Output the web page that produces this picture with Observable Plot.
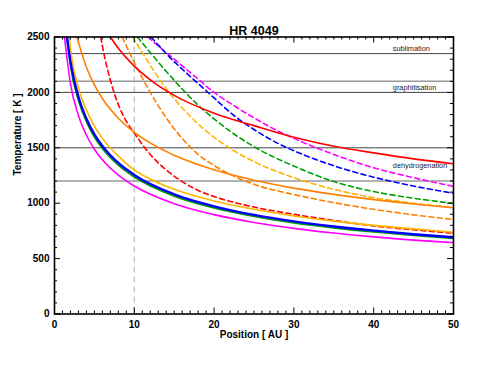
<!DOCTYPE html>
<html><head><meta charset="utf-8">
<script src="https://cdn.jsdelivr.net/npm/d3@7"></script>
<script src="https://cdn.jsdelivr.net/npm/@observablehq/plot@0.6"></script>
<style>body{margin:0;background:#fff;} #chart{width:491px;height:379px;}</style>
</head><body><div id="chart"></div>
<script>
const title = "HR 4049";
const xLabel = "Position [ AU ]";
const yLabel = "Temperature [ K ]";
const xTicks = [0, 10, 20, 30, 40, 50];
const yTicks = [0, 500, 1000, 1500, 2000, 2500];
const markerR = [10];

const limitValues = [2350, 2100, 2000, 1500, 1200];
const limitNames = ["sublimation", "graphitisation", "", "", "dehydrogenation"];

// solid curves
const r_magenta = [1.25, 2, 3, 4, 5, 6, 8, 10, 15, 20, 25, 30, 35, 40, 45, 50];
const T_magenta = [2500, 2078, 1792, 1613, 1487, 1392, 1253, 1155, 996, 897, 826, 773, 731, 696, 667, 645];
const r_blue = [1.55, 2, 3, 4, 5, 6, 8, 10, 15, 20, 25, 30, 35, 40, 45, 50];
const T_blue = [2500, 2278, 1960, 1762, 1622, 1517, 1363, 1255, 1080, 972, 894, 836, 790, 752, 720, 693];
const r_green = [1.58, 2, 3, 4, 5, 6, 8, 10, 15, 20, 25, 30, 35, 40, 45, 50];
const T_green = [2500, 2244, 1931, 1736, 1598, 1494, 1343, 1236, 1064, 957, 881, 823, 778, 741, 709, 683];
const r_gold = [1.85, 2, 3, 4, 5, 6, 8, 10, 12.5, 15, 20, 25, 30, 35, 40, 45, 50];
const T_gold = [2500, 2400, 2040, 1840, 1695, 1585, 1425, 1300, 1200, 1125, 1020, 945, 885, 838, 800, 768, 738];
const r_orange = [2.8, 3, 4, 5, 6, 8, 10, 15, 20, 25, 30, 35, 40, 45, 50];
const T_orange = [2500, 2452, 2227, 2067, 1945, 1767, 1640, 1432, 1301, 1207, 1136, 1080, 1032, 993, 958];
const r_red = [7, 8, 10, 12, 15, 20, 25, 30, 35, 40, 45, 50];
const T_red = [2500, 2398, 2237, 2114, 1973, 1812, 1700, 1595, 1514, 1454, 1400, 1356];

// dashed curves
const r_redD = [5.8, 6, 6.5, 7, 7.5, 8, 9, 10, 12, 14, 16, 18, 20, 25, 30, 35, 40, 45, 50];
const T_redD = [2500, 2420, 2250, 2110, 1990, 1890, 1740, 1632, 1440, 1300, 1195, 1115, 1060, 965, 900, 845, 795, 760, 729];
const r_orangeD = [8.5, 9, 10, 11, 12, 13, 14, 16, 18, 20, 22, 25, 30, 35, 40, 45, 50];
const T_orangeD = [2500, 2420, 2270, 2130, 2000, 1880, 1770, 1585, 1440, 1340, 1260, 1170, 1078, 1005, 945, 895, 853];
const r_goldD = [9.8, 11, 12, 13, 14, 16, 18, 20, 22, 25, 30, 35, 40, 45, 50];
const T_goldD = [2500, 2360, 2245, 2135, 2035, 1860, 1715, 1595, 1495, 1375, 1230, 1125, 1050, 1000, 960];
const r_greenD = [10.4, 12, 14, 16, 18, 20, 22, 25, 30, 35, 40, 45, 50];
const T_greenD = [2500, 2360, 2190, 2030, 1885, 1760, 1650, 1510, 1335, 1195, 1105, 1045, 998];
const r_magentaD = [11.7, 13, 15, 17.5, 20, 22.5, 25, 27.5, 30, 35, 40, 45, 50];
const T_magentaD = [2500, 2420, 2300, 2150, 2000, 1880, 1770, 1670, 1585, 1440, 1320, 1230, 1152];
const r_blueD = [12.1, 14, 16, 18, 20, 22.5, 25, 28, 32, 36, 40, 45, 50];
const T_blueD = [2500, 2350, 2210, 2080, 1950, 1790, 1665, 1540, 1415, 1315, 1235, 1155, 1090];

const W = 491, H = 379, mL = 54, mR = 38, mT = 36.5, mB = 65.5;
const plotW = W - mL - mR, plotH = H - mT - mB;
const xMax = xTicks[xTicks.length - 1], yMax = yTicks[yTicks.length - 1];
const kx = plotW / xMax, ky = plotH / yMax;

const zip = (r, T) => r.map((v, i) => ({r: v, T: T[i]}));
const curves = [
  {d: zip(r_redD, T_redD), c: "#ff0000", dash: true, w: 1.6},
  {d: zip(r_orangeD, T_orangeD), c: "#ff7f00", dash: true, w: 1.6},
  {d: zip(r_goldD, T_goldD), c: "#ffb400", dash: true, w: 1.6},
  {d: zip(r_greenD, T_greenD), c: "#00a000", dash: true, w: 1.6},
  {d: zip(r_magentaD, T_magentaD), c: "#ff00ff", dash: true, w: 1.6},
  {d: zip(r_blueD, T_blueD), c: "#0000ff", dash: true, w: 1.6},
  {d: zip(r_red, T_red), c: "#ff0000", dash: false, w: 1.6},
  {d: zip(r_orange, T_orange), c: "#ff7f00", dash: false, w: 1.6},
  {d: zip(r_gold, T_gold), c: "#ffb400", dash: false, w: 1.6},
  {d: zip(r_magenta, T_magenta), c: "#ff00ff", dash: false, w: 1.6},
  {d: zip(r_green, T_green), c: "#00a000", dash: false, w: 1.8},
  {d: zip(r_blue, T_blue), c: "#0000ff", dash: false, w: 2.4}
];

const font = "'Liberation Sans', Arial, Helvetica, sans-serif";
const xMinor = d3.range(0, xMax + 0.001, 1);
const yMinor = d3.range(0, yMax + 0.001, 100);
const tl = (isMajor) => (isMajor ? 6 : 3);

const limits = limitValues.map((v, i) => ({v, name: limitNames[i], i}));
const limitStroke = ["#444", "#999", "#444", "#444", "#999"];
const limitWidth = [1, 1.4, 1, 1, 1.4];
const labelDy = [-4.5, 6, 0, 0, -15];
const labelX = 42.4;

const chart = Plot.plot({
  width: W, height: H,
  marginLeft: mL, marginRight: mR, marginTop: mT, marginBottom: mB,
  style: {fontFamily: font, background: "#fff"},
  x: {domain: [0, xMax], axis: null},
  y: {domain: [0, yMax], axis: null},
  marks: [
    Plot.ruleX(markerR, {x: d => d, stroke: "#bbb", strokeWidth: 1.2, strokeDasharray: "6,4"}),
    Plot.ruleY(limits, {y: "v", stroke: d => limitStroke[d.i], strokeWidth: d => limitWidth[d.i]}),
    ...limits.filter(d => d.name).map(d => Plot.text([d], {x: labelX, y: "v", text: "name", textAnchor: "start",
      dy: labelDy[d.i], fontSize: 7.3, fill: "#222"})),
    ...curves.map(c => Plot.line(c.d, {x: "r", y: "T", stroke: c.c, strokeWidth: c.w,
      strokeDasharray: c.dash ? "5,3.5" : null, curve: "monotone-x", clip: true})),
    // inward ticks on all sides
    Plot.ruleX(xMinor, {x: d => d, y1: 0, y2: d => tl(d % 10 === 0) / ky, stroke: "black", strokeWidth: 1}),
    Plot.ruleX(xMinor, {x: d => d, y1: d => yMax - tl(d % 10 === 0) / ky, y2: yMax, stroke: "black", strokeWidth: 1}),
    Plot.ruleY(yMinor, {y: d => d, x1: 0, x2: d => tl(d % 500 === 0) / kx, stroke: "black", strokeWidth: 1}),
    Plot.ruleY(yMinor, {y: d => d, x1: d => xMax - tl(d % 500 === 0) / kx, x2: xMax, stroke: "black", strokeWidth: 1}),
    Plot.frame({stroke: "black", strokeWidth: 1.6}),
    Plot.text(xTicks, {x: d => d, y: 0, text: d => String(d), dy: 11, fontSize: 10, fontWeight: "bold", fill: "black"}),
    Plot.text(yTicks, {x: 0, y: d => d, text: d => String(d), dx: -5, textAnchor: "end", fontSize: 10, fontWeight: "bold", fill: "black"}),
    Plot.text([xLabel], {frameAnchor: "bottom", dy: 23.5, fontSize: 10, fontWeight: "bold", fill: "black"}),
    Plot.text([yLabel], {frameAnchor: "left", dx: -37, rotate: -90, fontSize: 10, fontWeight: "bold", fill: "black"}),
    Plot.text([title], {frameAnchor: "top", dy: -11, fontSize: 12.5, fontWeight: "bold", fill: "black"})
  ]
});
document.getElementById("chart").appendChild(chart);
</script>
</body></html>
